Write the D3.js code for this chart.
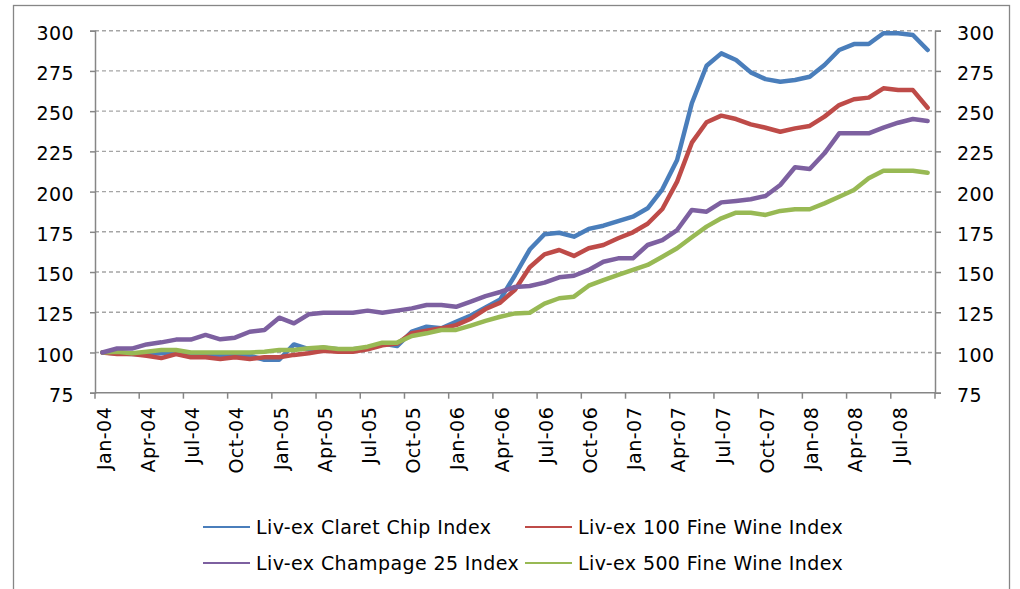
<!DOCTYPE html>
<html>
<head>
<meta charset="utf-8">
<script src="https://cdn.jsdelivr.net/npm/d3@7"></script>
<style>
  body { margin: 0; background: #fff; }
  text { font-family: "DejaVu Sans", Verdana, sans-serif; fill: #000; }
</style>
</head>
<body>
<div id="chart"></div>
<script>
// month categories, Jan-04 .. Sep-08
var categories = [
  "Jan-04","Feb-04","Mar-04","Apr-04","May-04","Jun-04","Jul-04","Aug-04","Sep-04","Oct-04","Nov-04","Dec-04",
  "Jan-05","Feb-05","Mar-05","Apr-05","May-05","Jun-05","Jul-05","Aug-05","Sep-05","Oct-05","Nov-05","Dec-05",
  "Jan-06","Feb-06","Mar-06","Apr-06","May-06","Jun-06","Jul-06","Aug-06","Sep-06","Oct-06","Nov-06","Dec-06",
  "Jan-07","Feb-07","Mar-07","Apr-07","May-07","Jun-07","Jul-07","Aug-07","Sep-07","Oct-07","Nov-07","Dec-07",
  "Jan-08","Feb-08","Mar-08","Apr-08","May-08","Jun-08","Jul-08","Aug-08","Sep-08"
];

var claretChip = [
  100, 99.5, 99, 99, 99.5, 100, 99, 99, 98, 98, 98, 95.5,
  95.5, 105, 102, 103, 102, 102, 103, 105.5, 104, 113, 116, 115,
  119, 123, 128, 133, 148, 164, 173.5, 174.4, 172, 176.8, 178.8, 181.7,
  184.4, 189.6, 201.4, 219.6, 254.9, 278.2, 285.9, 281.8, 274.1, 269.9, 268.3, 269.4,
  271.4, 278.7, 288, 291.7, 291.7, 298.4, 298.4, 297.3, 288
];

var fineWine100 = [
  100, 99, 99, 98, 96.5, 99, 97, 97, 96, 97, 96, 97,
  97, 98.5, 99.5, 101, 100.5, 100.5, 102, 104.5, 105.5, 112, 113.5, 115,
  117, 121, 127, 131, 139, 153, 161, 163.7, 160, 164.8, 166.8, 171,
  174.7, 180, 189.2, 206.2, 230.4, 243.1, 247.2, 245.1, 241.8, 239.7, 237.2, 239.3,
  240.8, 246.6, 253.8, 257.4, 258.4, 264.2, 263.1, 263.1, 252.1
];

var champagne25 = [
  100, 102.5, 102.4, 105, 106.3, 108, 108, 110.9, 108.2, 109.2, 112.9, 114,
  121.6, 118.1, 123.7, 124.7, 124.7, 124.7, 126, 124.7, 126, 127.4, 129.5, 129.5,
  128.4, 131.6, 135, 137.6, 140.7, 141.3, 143.4, 146.7, 147.7, 151.3, 156.4, 158.5,
  158.5, 166.8, 169.9, 176.1, 188.6, 187.5, 193.3, 194.2, 195.2, 197.3, 204.1, 215.1,
  214, 223.8, 236.2, 236.2, 236.2, 239.7, 242.8, 245.1, 243.9
];

var fineWine500 = [
  100, 100.5, 99.5, 100.5, 101.5, 101.5, 100, 100, 100, 100, 100, 100.5,
  101.5, 101.5, 102.6, 103.2, 102.2, 102.2, 103.6, 106.1, 106.1, 110.2, 111.9, 114,
  114, 116.7, 119.6, 122.2, 124.3, 124.7, 130.4, 133.7, 134.7, 141.5, 145, 148.2,
  151.3, 154.4, 159.5, 164.8, 171.6, 178.2, 183.4, 186.9, 186.9, 185.5, 188, 189,
  189, 192.7, 196.8, 201, 208.3, 213, 213, 213, 211.7
];

var seriesNames = [
  "Liv-ex Claret Chip Index",
  "Liv-ex 100 Fine Wine Index",
  "Liv-ex Champage 25 Index",
  "Liv-ex 500 Fine Wine Index"
];
var seriesColors = ["#4a7ebb", "#be4b48", "#7d60a0", "#98b954"];

var yTicks = [75, 100, 125, 150, 175, 200, 225, 250, 275, 300];

var width = 1020, height = 589;
var plotLeft = 95, plotRight = 935, plotTop = 30.7, plotBottom = 392.7;

var svg = d3.select("#chart").append("svg")
    .attr("width", width)
    .attr("height", height);

// outer chart border (runs off the bottom of the picture)
svg.append("rect")
  .attr("x", 13.5).attr("y", 5.5)
  .attr("width", 996).attr("height", 620)
  .attr("fill", "none")
  .attr("stroke", "#868686")
  .attr("stroke-width", 1.3);

var xScale = d3.scaleBand()
    .domain(categories)
    .range([plotLeft, plotRight])
    .paddingInner(0)
    .paddingOuter(0);

var yScale = d3.scaleLinear()
    .domain([75, 300])
    .range([plotBottom, plotTop]);

function xMid(c) { return xScale(c) + xScale.bandwidth() / 2; }

// gridlines
svg.selectAll(".grid")
  .data(yTicks.filter(function(d) { return d > 75; }))
 .enter()
  .append("line")
  .attr("class", "grid")
  .attr("x1", plotLeft).attr("x2", plotRight)
  .attr("y1", function(d) { return yScale(d); })
  .attr("y2", function(d) { return yScale(d); })
  .attr("stroke", "#a5a5a5")
  .attr("stroke-width", 1.4)
  .attr("stroke-dasharray", "4,3");

// left axis
var leftAxis = d3.axisLeft(yScale).tickValues(yTicks).tickSize(5).tickPadding(16);
var gLeft = svg.append("g")
  .attr("transform", "translate(" + plotLeft + ",0)")
  .call(leftAxis);

// right axis
var rightAxis = d3.axisRight(yScale).tickValues(yTicks).tickSize(6).tickPadding(16);
var gRight = svg.append("g")
  .attr("transform", "translate(" + plotRight + ",0)")
  .call(rightAxis);

[gLeft, gRight].forEach(function(g) {
  g.select(".domain").attr("stroke", "#868686").attr("stroke-width", 1.5);
  g.selectAll(".tick line").attr("stroke", "#868686").attr("stroke-width", 1.5);
  g.selectAll(".tick text")
    .style("font-size", "19px")
    .style("font-family", "'DejaVu Sans', Verdana, sans-serif")
    .style("letter-spacing", "0.4px")
    .attr("dy", "0.45em")
    .attr("fill", "#000");
});

// bottom axis line
svg.append("line")
  .attr("x1", plotLeft).attr("x2", plotRight)
  .attr("y1", plotBottom).attr("y2", plotBottom)
  .attr("stroke", "#868686").attr("stroke-width", 1.5);

// quarter tick marks at category boundaries
var tickCats = categories.filter(function(d, i) { return i % 3 === 0; });
var tickXs = tickCats.map(function(c) { return xScale(c); }).concat([plotRight]);
svg.selectAll(".xtick")
  .data(tickXs)
 .enter()
  .append("line")
  .attr("x1", function(d) { return d; })
  .attr("x2", function(d) { return d; })
  .attr("y1", plotBottom).attr("y2", plotBottom + 6)
  .attr("stroke", "#868686").attr("stroke-width", 1.5);

// rotated month labels
svg.selectAll(".xlabel")
  .data(tickCats)
 .enter()
  .append("text")
  .attr("class", "xlabel")
  .attr("transform", function(d) { return "translate(" + (xMid(d) + 1.5) + "," + (plotBottom + 14) + ") rotate(-90)"; })
  .attr("text-anchor", "end")
  .attr("dy", "0.36em")
  .style("font-size", "19px")
  .style("letter-spacing", "0.5px")
  .text(function(d) { return d; });

// series lines
var allSeries = [claretChip, fineWine100, champagne25, fineWine500];
var line = d3.line()
  .x(function(d, i) { return xMid(categories[i]); })
  .y(function(d) { return yScale(d); });

// draw order: claret, 100, 500, champagne on top like the reference
[0, 1, 3, 2].forEach(function(k) {
  svg.append("path")
    .datum(allSeries[k])
    .attr("d", line)
    .attr("fill", "none")
    .attr("stroke", seriesColors[k])
    .attr("stroke-width", 4.5)
    .attr("stroke-linejoin", "round")
    .attr("stroke-linecap", "round");
});

// legend
var legendPos = [
  {x: 203, y: 527}, {x: 525, y: 527},
  {x: 203, y: 563}, {x: 525, y: 563}
];
var legend = svg.selectAll(".legend")
  .data(seriesNames)
 .enter()
  .append("g")
  .attr("transform", function(d, i) { return "translate(" + legendPos[i].x + "," + legendPos[i].y + ")"; });

legend.append("line")
  .attr("x1", 0).attr("x2", 47)
  .attr("y1", 0).attr("y2", 0)
  .attr("stroke", function(d, i) { return seriesColors[i]; })
  .attr("stroke-width", 2);

legend.append("text")
  .attr("x", 53)
  .attr("y", 0)
  .attr("dy", "0.36em")
  .style("font-size", "19px")
  .style("letter-spacing", "0.4px")
  .text(function(d) { return d; });
</script>
</body>
</html>
